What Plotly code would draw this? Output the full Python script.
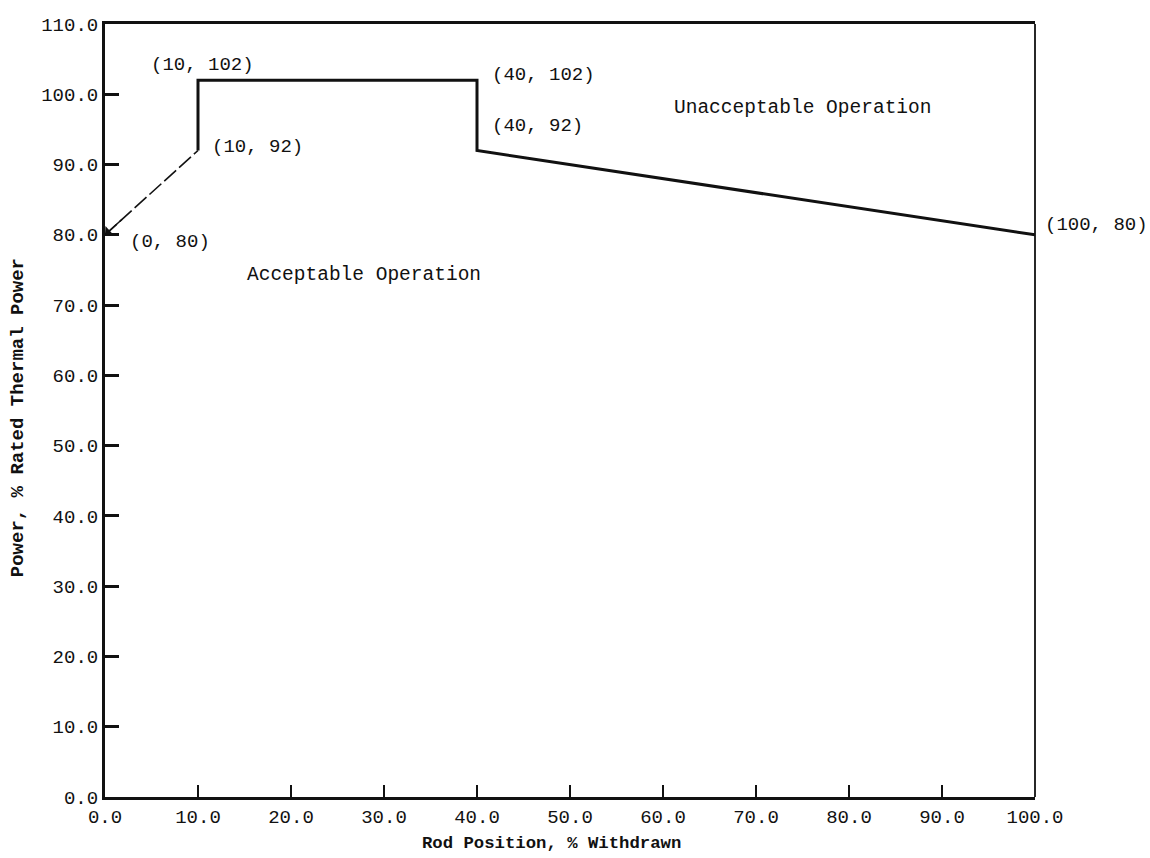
import plotly.graph_objects as go

# Data
rod_position = [0, 10, 10, 40, 40, 100]
power_limit = [80, 92, 102, 102, 92, 80]
x_ticks = [0, 10, 20, 30, 40, 50, 60, 70, 80, 90, 100]
y_ticks = [0, 10, 20, 30, 40, 50, 60, 70, 80, 90, 100, 110]
region_labels = ["Unacceptable Operation", "Acceptable Operation"]
region_x = [61, 15]
region_y = [98, 74.3]

FONT = "Liberation Mono, Courier New, monospace"
INK = "#111111"

fig = go.Figure()

# dashed first segment (0,80)-(10,92)
fig.add_trace(go.Scatter(
    x=rod_position[:2], y=power_limit[:2], mode="lines",
    line=dict(color=INK, width=1.6, dash="16px,4px"),
    hoverinfo="skip", showlegend=False))
# solid remainder
fig.add_trace(go.Scatter(
    x=rod_position[1:], y=power_limit[1:], mode="lines",
    line=dict(color=INK, width=3),
    hoverinfo="skip", showlegend=False))

# arrowhead at (0, 80)
fig.add_annotation(
    x=rod_position[0], y=power_limit[0], xref="x", yref="y",
    ax=rod_position[0] + 0.2 * (rod_position[1] - rod_position[0]),
    ay=power_limit[0] + 0.2 * (power_limit[1] - power_limit[0]),
    axref="x", ayref="y", showarrow=True, arrowhead=1, arrowsize=1.4,
    arrowwidth=1.5, arrowcolor=INK, text="")

# point labels: (xshift, yshift, xanchor)
offsets = [(23, -7, "left"), (12, 3, "left"), (4, 15, "center"),
           (13, 5, "left"), (13, 24, "left"), (8, 10, "left")]
for xv, yv, (dx, dy, anc) in zip(rod_position, power_limit, offsets):
    fig.add_annotation(
        x=xv, y=yv, xref="x", yref="y", text=f"({xv}, {yv})",
        showarrow=False, xanchor=anc, yanchor="middle", xshift=dx, yshift=dy,
        font=dict(family=FONT, size=19, color=INK))

for t, xv, yv in zip(region_labels, region_x, region_y):
    fig.add_annotation(
        x=xv, y=yv, xref="x", yref="y", text=t, showarrow=False,
        xanchor="left", yanchor="middle",
        font=dict(family=FONT, size=19.5, color=INK))

# axis titles
fig.add_annotation(
    x=0.4806, y=0, xref="paper", yref="paper", yshift=-46,
    text="<b>Rod Position, % Withdrawn</b>", showarrow=False,
    xanchor="center", yanchor="middle",
    font=dict(family=FONT, size=17.3, color=INK))
fig.add_annotation(
    x=0, y=0.49, xref="paper", yref="paper", xshift=-87,
    text="<b>Power, % Rated Thermal Power</b>", showarrow=False,
    textangle=-90, xanchor="center", yanchor="middle",
    font=dict(family=FONT, size=19, color=INK))

# thin right border
fig.add_shape(type="line", xref="x domain", yref="y domain",
              x0=1, x1=1, y0=0, y1=1, line=dict(color=INK, width=1.8))

fig.update_xaxes(
    range=[0, 100], tickvals=x_ticks, ticktext=[f"{v:.1f}" for v in x_ticks],
    ticks="inside", ticklen=12, tickwidth=2, tickcolor=INK,
    showline=True, linewidth=3, linecolor=INK, mirror=True,
    showgrid=False, zeroline=False,
    tickfont=dict(family=FONT, size=19, color=INK))
fig.update_yaxes(
    range=[0, 110], tickvals=y_ticks, ticktext=[f"{v:.1f}" for v in y_ticks],
    ticks="inside", ticklen=14, tickwidth=3, tickcolor=INK,
    showline=True, linewidth=3, linecolor=INK, mirror=False,
    showgrid=False, zeroline=False,
    tickfont=dict(family=FONT, size=19, color=INK))

fig.update_layout(
    width=1150, height=858,
    margin=dict(l=105, r=115, t=24, b=61),
    plot_bgcolor="white", paper_bgcolor="white",
    showlegend=False)

fig.write_html("out.html")
